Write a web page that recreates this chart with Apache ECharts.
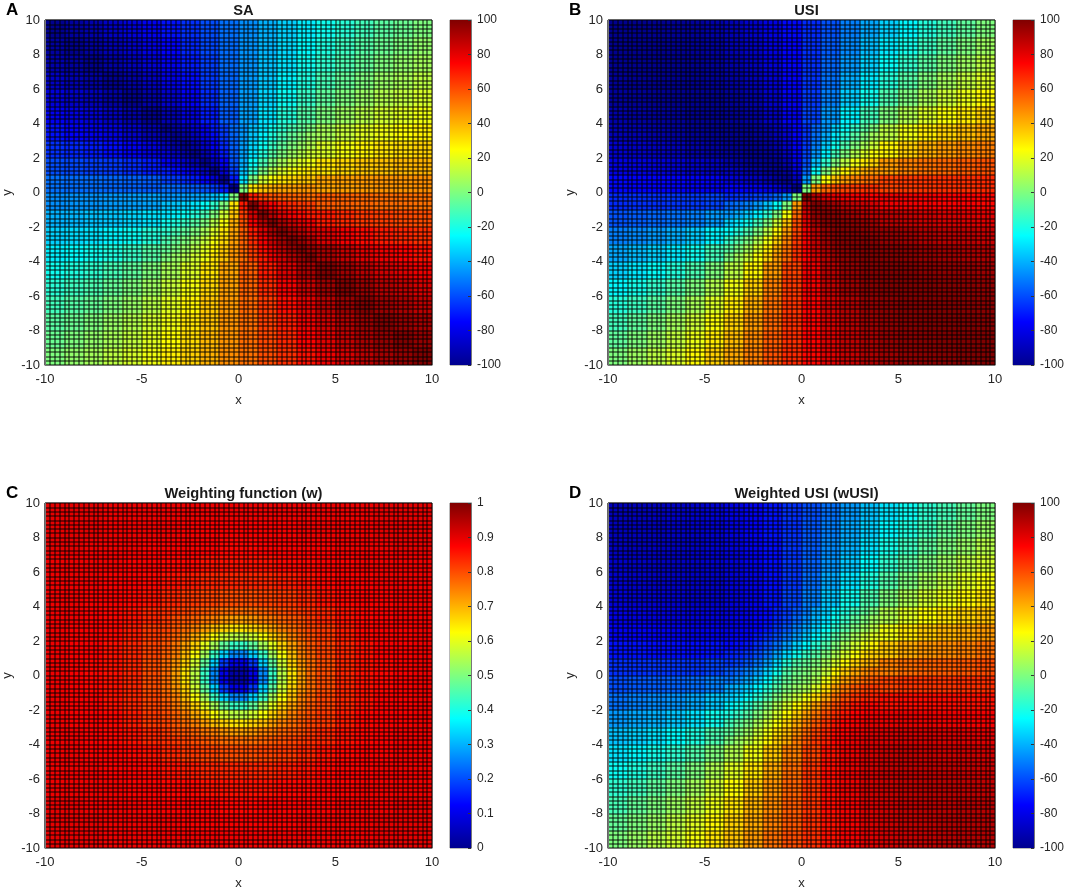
<!DOCTYPE html>
<html>
<head>
<meta charset="utf-8">
<title>SA, USI, weighting function, wUSI</title>
<script src="https://cdn.jsdelivr.net/npm/echarts@6/dist/echarts.min.js"></script>
<style>
  html, body { margin: 0; background: #fff; }
  #main { width: 1067px; height: 893px; }
</style>
</head>
<body>
<div id="main"></div>
<script>
// cell centres, values: one cell per unit over the whole plot
var xCenters = [-9.5,-8.5,-7.5,-6.5,-5.5,-4.5,-3.5,-2.5,-1.5,-0.5,0.5,1.5,2.5,3.5,4.5,5.5,6.5,7.5,8.5,9.5];
var yCenters = [9.5,8.5,7.5,6.5,5.5,4.5,3.5,2.5,1.5,0.5,-0.5,-1.5,-2.5,-3.5,-4.5,-5.5,-6.5,-7.5,-8.5,-9.5];
// and half unit cells around the centre, where the picture changes fast
var xInner = [-3.75,-3.25,-2.75,-2.25,-1.75,-1.25,-0.75,-0.25,0.25,0.75,1.25,1.75,2.25,2.75,3.25,3.75];
var yInner = [3.75,3.25,2.75,2.25,1.75,1.25,0.75,0.25,-0.25,-0.75,-1.25,-1.75,-2.25,-2.75,-3.25,-3.75];

var saValues = [
  [-100,-96,-93,-88,-83,-78,-72,-66,-60,-53,-47,-40,-34,-28,-22,-17,-12,-7,-4,0],
  [-96,-100,-96,-92,-87,-81,-75,-68,-61,-54,-46,-39,-32,-25,-19,-13,-8,-4,0,4],
  [-93,-96,-100,-95,-90,-84,-78,-70,-63,-54,-46,-37,-30,-22,-16,-10,-5,0,4,7],
  [-88,-92,-95,-100,-95,-89,-81,-73,-64,-55,-45,-36,-27,-19,-11,-5,0,5,8,12],
  [-83,-87,-90,-95,-100,-94,-86,-77,-67,-56,-44,-33,-23,-14,-6,0,5,10,13,17],
  [-78,-81,-84,-89,-94,-100,-92,-82,-70,-57,-43,-30,-18,-8,0,6,11,16,19,22],
  [-72,-75,-78,-81,-86,-92,-100,-89,-76,-59,-41,-24,-11,0,8,14,19,22,25,28],
  [-66,-68,-70,-73,-77,-82,-89,-100,-84,-63,-37,-16,0,11,18,23,27,30,32,34],
  [-60,-61,-63,-64,-67,-70,-76,-84,-100,-70,-30,0,16,24,30,33,36,37,39,40],
  [-53,-54,-54,-55,-56,-57,-59,-63,-70,-100,0,30,37,41,43,44,45,46,46,47],
  [-47,-46,-46,-45,-44,-43,-41,-37,-30,0,100,70,63,59,57,56,55,54,54,53],
  [-40,-39,-37,-36,-33,-30,-24,-16,0,30,70,100,84,76,70,67,64,63,61,60],
  [-34,-32,-30,-27,-23,-18,-11,0,16,37,63,84,100,89,82,77,73,70,68,66],
  [-28,-25,-22,-19,-14,-8,0,11,24,41,59,76,89,100,92,86,81,78,75,72],
  [-22,-19,-16,-11,-6,0,8,18,30,43,57,70,82,92,100,94,89,84,81,78],
  [-17,-13,-10,-5,0,6,14,23,33,44,56,67,77,86,94,100,95,90,87,83],
  [-12,-8,-5,0,5,11,19,27,36,45,55,64,73,81,89,95,100,95,92,88],
  [-7,-4,0,5,10,16,22,30,37,46,54,63,70,78,84,90,95,100,96,93],
  [-4,0,4,8,13,19,25,32,39,46,54,61,68,75,81,87,92,96,100,96],
  [0,4,7,12,17,22,28,34,40,47,53,60,66,72,78,83,88,93,96,100]
];
var saInner = [
  [-100,-95,-90,-84,-78,-70,-63,-54,-46,-37,-30,-22,-16,-10,-5,0],
  [-95,-100,-95,-89,-81,-73,-64,-55,-45,-36,-27,-19,-11,-5,0,5],
  [-90,-95,-100,-94,-86,-77,-67,-56,-44,-33,-23,-14,-6,0,5,10],
  [-84,-89,-94,-100,-92,-82,-70,-57,-43,-30,-18,-8,0,6,11,16],
  [-78,-81,-86,-92,-100,-89,-76,-59,-41,-24,-11,0,8,14,19,22],
  [-70,-73,-77,-82,-89,-100,-84,-63,-37,-16,0,11,18,23,27,30],
  [-63,-64,-67,-70,-76,-84,-100,-70,-30,0,16,24,30,33,36,37],
  [-54,-55,-56,-57,-59,-63,-70,-100,0,30,37,41,43,44,45,46],
  [-46,-45,-44,-43,-41,-37,-30,0,100,70,63,59,57,56,55,54],
  [-37,-36,-33,-30,-24,-16,0,30,70,100,84,76,70,67,64,63],
  [-30,-27,-23,-18,-11,0,16,37,63,84,100,89,82,77,73,70],
  [-22,-19,-14,-8,0,11,24,41,59,76,89,100,92,86,81,78],
  [-16,-11,-6,0,8,18,30,43,57,70,82,92,100,94,89,84],
  [-10,-5,0,6,14,23,33,44,56,67,77,86,94,100,95,90],
  [-5,0,5,11,19,27,36,45,55,64,73,81,89,95,100,95],
  [0,5,10,16,22,30,37,46,54,63,70,78,84,90,95,100]
];

var usiValues = [
  [-100,-100,-99,-98,-97,-94,-91,-86,-81,-74,-67,-59,-50,-42,-34,-26,-18,-12,-6,0],
  [-100,-100,-100,-99,-98,-96,-92,-88,-82,-75,-66,-57,-48,-38,-29,-21,-13,-6,0,6],
  [-99,-100,-100,-100,-99,-97,-94,-89,-83,-75,-66,-55,-45,-34,-24,-15,-7,0,6,12],
  [-98,-99,-100,-100,-100,-98,-96,-91,-85,-76,-65,-53,-41,-29,-18,-8,0,7,13,18],
  [-97,-98,-99,-100,-100,-100,-98,-94,-87,-77,-64,-50,-35,-22,-10,0,8,15,21,26],
  [-94,-96,-97,-98,-100,-100,-99,-96,-89,-78,-62,-45,-27,-12,0,10,18,24,29,34],
  [-91,-92,-94,-96,-98,-99,-100,-99,-93,-80,-60,-37,-16,0,12,22,29,34,38,42],
  [-86,-88,-89,-91,-94,-96,-99,-100,-97,-83,-55,-24,0,16,27,35,41,45,48,50],
  [-81,-82,-83,-85,-87,-89,-93,-97,-100,-89,-45,0,24,37,45,50,53,55,57,59],
  [-74,-75,-75,-76,-77,-78,-80,-83,-89,-100,0,45,55,60,62,64,65,66,66,67],
  [-67,-66,-66,-65,-64,-62,-60,-55,-45,0,100,89,83,80,78,77,76,75,75,74],
  [-59,-57,-55,-53,-50,-45,-37,-24,0,45,89,100,97,93,89,87,85,83,82,81],
  [-50,-48,-45,-41,-35,-27,-16,0,24,55,83,97,100,99,96,94,91,89,88,86],
  [-42,-38,-34,-29,-22,-12,0,16,37,60,80,93,99,100,99,98,96,94,92,91],
  [-34,-29,-24,-18,-10,0,12,27,45,62,78,89,96,99,100,100,98,97,96,94],
  [-26,-21,-15,-8,0,10,22,35,50,64,77,87,94,98,100,100,100,99,98,97],
  [-18,-13,-7,0,8,18,29,41,53,65,76,85,91,96,98,100,100,100,99,98],
  [-12,-6,0,7,15,24,34,45,55,66,75,83,89,94,97,99,100,100,100,99],
  [-6,0,6,13,21,29,38,48,57,66,75,82,88,92,96,98,99,100,100,100],
  [0,6,12,18,26,34,42,50,59,67,74,81,86,91,94,97,98,99,100,100]
];
var usiInner = [
  [-100,-100,-99,-97,-94,-89,-83,-75,-66,-55,-45,-34,-24,-15,-7,0],
  [-100,-100,-100,-98,-96,-91,-85,-76,-65,-53,-41,-29,-18,-8,0,7],
  [-99,-100,-100,-100,-98,-94,-87,-77,-64,-50,-35,-22,-10,0,8,15],
  [-97,-98,-100,-100,-99,-96,-89,-78,-62,-45,-27,-12,0,10,18,24],
  [-94,-96,-98,-99,-100,-99,-93,-80,-60,-37,-16,0,12,22,29,34],
  [-89,-91,-94,-96,-99,-100,-97,-83,-55,-24,0,16,27,35,41,45],
  [-83,-85,-87,-89,-93,-97,-100,-89,-45,0,24,37,45,50,53,55],
  [-75,-76,-77,-78,-80,-83,-89,-100,0,45,55,60,62,64,65,66],
  [-66,-65,-64,-62,-60,-55,-45,0,100,89,83,80,78,77,76,75],
  [-55,-53,-50,-45,-37,-24,0,45,89,100,97,93,89,87,85,83],
  [-45,-41,-35,-27,-16,0,24,55,83,97,100,99,96,94,91,89],
  [-34,-29,-22,-12,0,16,37,60,80,93,99,100,99,98,96,94],
  [-24,-18,-10,0,12,27,45,62,78,89,96,99,100,100,98,97],
  [-15,-8,0,10,22,35,50,64,77,87,94,98,100,100,100,99],
  [-7,0,8,18,29,41,53,65,76,85,91,96,98,100,100,100],
  [0,7,15,24,34,45,55,66,75,83,89,94,97,99,100,100]
];

var weightValues = [
  [.90,.90,.90,.89,.89,.89,.89,.89,.89,.89,.89,.89,.89,.89,.89,.89,.89,.90,.90,.90],
  [.90,.90,.90,.89,.89,.89,.89,.88,.88,.88,.88,.88,.88,.89,.89,.89,.89,.90,.90,.90],
  [.90,.90,.89,.89,.89,.88,.88,.88,.88,.87,.87,.88,.88,.88,.88,.89,.89,.89,.90,.90],
  [.89,.89,.89,.89,.88,.88,.87,.87,.86,.86,.86,.86,.87,.87,.88,.88,.89,.89,.89,.89],
  [.89,.89,.89,.88,.88,.87,.86,.85,.84,.84,.84,.84,.85,.86,.87,.88,.88,.89,.89,.89],
  [.89,.89,.88,.88,.87,.86,.84,.82,.81,.80,.80,.81,.82,.84,.86,.87,.88,.88,.89,.89],
  [.89,.89,.88,.87,.86,.84,.82,.79,.77,.75,.75,.77,.79,.82,.84,.86,.87,.88,.89,.89],
  [.89,.88,.88,.87,.85,.82,.79,.75,.68,.62,.62,.68,.75,.79,.82,.85,.87,.88,.88,.89],
  [.89,.88,.88,.86,.84,.81,.77,.68,.53,.37,.37,.53,.68,.77,.81,.84,.86,.88,.88,.89],
  [.89,.88,.87,.86,.84,.80,.75,.62,.37,.08,.08,.37,.62,.75,.80,.84,.86,.87,.88,.89],
  [.89,.88,.87,.86,.84,.80,.75,.62,.37,.08,.08,.37,.62,.75,.80,.84,.86,.87,.88,.89],
  [.89,.88,.88,.86,.84,.81,.77,.68,.53,.37,.37,.53,.68,.77,.81,.84,.86,.88,.88,.89],
  [.89,.88,.88,.87,.85,.82,.79,.75,.68,.62,.62,.68,.75,.79,.82,.85,.87,.88,.88,.89],
  [.89,.89,.88,.87,.86,.84,.82,.79,.77,.75,.75,.77,.79,.82,.84,.86,.87,.88,.89,.89],
  [.89,.89,.88,.88,.87,.86,.84,.82,.81,.80,.80,.81,.82,.84,.86,.87,.88,.88,.89,.89],
  [.89,.89,.89,.88,.88,.87,.86,.85,.84,.84,.84,.84,.85,.86,.87,.88,.88,.89,.89,.89],
  [.89,.89,.89,.89,.88,.88,.87,.87,.86,.86,.86,.86,.87,.87,.88,.88,.89,.89,.89,.89],
  [.90,.90,.89,.89,.89,.88,.88,.88,.88,.87,.87,.88,.88,.88,.88,.89,.89,.89,.90,.90],
  [.90,.90,.90,.89,.89,.89,.89,.88,.88,.88,.88,.88,.88,.89,.89,.89,.89,.90,.90,.90],
  [.90,.90,.90,.89,.89,.89,.89,.89,.89,.89,.89,.89,.89,.89,.89,.89,.89,.90,.90,.90]
];
var weightInner = [
  [.83,.82,.81,.80,.79,.78,.77,.77,.77,.77,.78,.79,.80,.81,.82,.83],
  [.82,.80,.79,.78,.76,.75,.73,.72,.72,.73,.75,.76,.78,.79,.80,.82],
  [.81,.79,.77,.75,.72,.69,.67,.65,.65,.67,.69,.72,.75,.77,.79,.81],
  [.80,.78,.75,.71,.67,.62,.58,.56,.56,.58,.62,.67,.71,.75,.78,.80],
  [.79,.76,.72,.67,.60,.54,.47,.43,.43,.47,.54,.60,.67,.72,.76,.79],
  [.78,.75,.69,.62,.54,.43,.33,.26,.26,.33,.43,.54,.62,.69,.75,.78],
  [.77,.73,.67,.58,.47,.33,.18,.10,.10,.18,.33,.47,.58,.67,.73,.77],
  [.77,.72,.65,.56,.43,.26,.10,.03,.03,.10,.26,.43,.56,.65,.72,.77],
  [.77,.72,.65,.56,.43,.26,.10,.03,.03,.10,.26,.43,.56,.65,.72,.77],
  [.77,.73,.67,.58,.47,.33,.18,.10,.10,.18,.33,.47,.58,.67,.73,.77],
  [.78,.75,.69,.62,.54,.43,.33,.26,.26,.33,.43,.54,.62,.69,.75,.78],
  [.79,.76,.72,.67,.60,.54,.47,.43,.43,.47,.54,.60,.67,.72,.76,.79],
  [.80,.78,.75,.71,.67,.62,.58,.56,.56,.58,.62,.67,.71,.75,.78,.80],
  [.81,.79,.77,.75,.72,.69,.67,.65,.65,.67,.69,.72,.75,.77,.79,.81],
  [.82,.80,.79,.78,.76,.75,.73,.72,.72,.73,.75,.76,.78,.79,.80,.82],
  [.83,.82,.81,.80,.79,.78,.77,.77,.77,.77,.78,.79,.80,.81,.82,.83]
];

var wusiValues = [
  [-90,-90,-89,-87,-86,-84,-81,-77,-72,-66,-60,-53,-45,-37,-30,-23,-16,-11,-5,0],
  [-90,-90,-90,-88,-87,-85,-82,-77,-72,-66,-58,-50,-42,-34,-26,-19,-12,-5,0,5],
  [-89,-90,-89,-89,-88,-85,-83,-78,-73,-65,-57,-48,-40,-30,-21,-13,-6,0,5,11],
  [-87,-88,-89,-89,-88,-86,-84,-79,-73,-65,-56,-46,-36,-25,-16,-7,0,6,12,16],
  [-86,-87,-88,-88,-88,-87,-84,-80,-73,-65,-54,-42,-30,-19,-9,0,7,13,19,23],
  [-84,-85,-85,-86,-87,-86,-83,-79,-72,-62,-50,-36,-22,-10,0,9,16,21,26,30],
  [-81,-82,-83,-84,-84,-83,-82,-78,-72,-60,-45,-28,-13,0,10,19,25,30,34,37],
  [-77,-77,-78,-79,-80,-79,-78,-75,-66,-51,-34,-16,0,13,22,30,36,40,42,45],
  [-72,-72,-73,-73,-73,-72,-72,-66,-53,-33,-17,0,16,28,36,42,46,48,50,53],
  [-66,-66,-65,-65,-65,-62,-60,-51,-33,-8,0,17,34,45,50,54,56,57,58,60],
  [-60,-58,-57,-56,-54,-50,-45,-34,-17,0,8,33,51,60,62,65,65,65,66,66],
  [-53,-50,-48,-46,-42,-36,-28,-16,0,17,33,53,66,72,72,73,73,73,72,72],
  [-45,-42,-40,-36,-30,-22,-13,0,16,34,51,66,75,78,79,80,79,78,77,77],
  [-37,-34,-30,-25,-19,-10,0,13,28,45,60,72,78,82,83,84,84,83,82,81],
  [-30,-26,-21,-16,-9,0,10,22,36,50,62,72,79,83,86,87,86,85,85,84],
  [-23,-19,-13,-7,0,9,19,30,42,54,65,73,80,84,87,88,88,88,87,86],
  [-16,-12,-6,0,7,16,25,36,46,56,65,73,79,84,86,88,89,89,88,87],
  [-11,-5,0,6,13,21,30,40,48,57,65,73,78,83,85,88,89,89,90,89],
  [-5,0,5,12,19,26,34,42,50,58,66,72,77,82,85,87,88,90,90,90],
  [0,5,11,16,23,30,37,45,53,60,66,72,77,81,84,86,87,89,90,90]
];
var wusiInner = [
  [-83,-82,-80,-78,-74,-69,-64,-58,-51,-42,-35,-27,-19,-12,-6,0],
  [-82,-80,-79,-76,-73,-68,-62,-55,-47,-39,-31,-22,-14,-6,0,6],
  [-80,-79,-77,-75,-71,-65,-58,-50,-42,-34,-24,-16,-8,0,6,12],
  [-78,-76,-75,-71,-66,-60,-52,-44,-35,-26,-17,-8,0,8,14,19],
  [-74,-73,-71,-66,-60,-53,-44,-34,-26,-17,-9,0,8,16,22,27],
  [-69,-68,-65,-60,-53,-43,-32,-22,-14,-8,0,9,17,24,31,35],
  [-64,-62,-58,-52,-44,-32,-18,-9,-5,0,8,17,26,34,39,42],
  [-58,-55,-50,-44,-34,-22,-9,-3,0,5,14,26,35,42,47,51],
  [-51,-47,-42,-35,-26,-14,-5,0,3,9,22,34,44,50,55,58],
  [-42,-39,-34,-26,-17,-8,0,5,9,18,32,44,52,58,62,64],
  [-35,-31,-24,-17,-9,0,8,14,22,32,43,53,60,65,68,69],
  [-27,-22,-16,-8,0,9,17,26,34,44,53,60,66,71,73,74],
  [-19,-14,-8,0,8,17,26,35,44,52,60,66,71,75,76,78],
  [-12,-6,0,8,16,24,34,42,50,58,65,71,75,77,79,80],
  [-6,0,6,14,22,31,39,47,55,62,68,73,76,79,80,82],
  [0,6,12,19,27,35,42,51,58,64,69,74,78,80,82,83]
];

var panelTitles = ['SA', 'USI', 'Weighting function (w)', 'Weighted USI (wUSI)'];
var panelLetters = ['A', 'B', 'C', 'D'];
var panelValues = [saValues, usiValues, weightValues, wusiValues];
var panelInner = [saInner, usiInner, weightInner, wusiInner];
var panelRanges = [[-100, 100], [-100, 100], [0, 1], [-100, 100]];
var barIntervals = [20, 20, 0.1, 20];

// matlab jet
var jet = ['#00008f','#0000ff','#007fff','#00ffff','#7fff7f','#ffff00','#ff7f00','#ff0000','#800000'];

var plotW = 387, plotH = 345, barW = 21;
var plotLeft = [45, 608, 45, 608];
var plotTop = [20, 20, 503, 503];
var textColor = '#262626';
var meshLine = { color: 'rgba(0,0,0,0.62)', width: 1.5 };

function cellData(xs, ys, rows, size) {
  var out = [];
  for (var j = 0; j < ys.length; j++) {
    for (var i = 0; i < xs.length; i++) {
      out.push([xs[i], ys[j], rows[j][i], size]);
    }
  }
  return out;
}

function renderCell(params, api) {
  var half = api.value(3) / 2;
  var a = api.coord([api.value(0) - half, api.value(1) + half]);
  var b = api.coord([api.value(0) + half, api.value(1) - half]);
  var x0 = Math.round(a[0]), y0 = Math.round(a[1]);
  return {
    type: 'rect',
    shape: { x: x0, y: y0, width: Math.round(b[0]) - x0, height: Math.round(b[1]) - y0 },
    style: { fill: api.visual('color') }
  };
}

function renderBar(params, api) {
  var a = api.coord([0, api.value(1)]);
  var b = api.coord([1, api.value(0)]);
  return {
    type: 'rect',
    shape: { x: a[0], y: a[1], width: b[0] - a[0], height: b[1] - a[1] },
    style: {
      fill: {
        type: 'linear', x: 0, y: 1, x2: 0, y2: 0,
        colorStops: jet.map(function (c, i) { return { offset: i / 8, color: c }; })
      }
    }
  };
}

var option = {
  animation: false,
  textStyle: { fontFamily: 'Liberation Sans, Arial, sans-serif' },
  title: [], grid: [], xAxis: [], yAxis: [], series: [], visualMap: []
};

panelTitles.forEach(function (name, k) {
  var left = plotLeft[k], top = plotTop[k];
  var g = k * 2;
  option.title.push({
    text: name, left: left + plotW / 2, top: top - 22, textAlign: 'center',
    textStyle: { fontSize: 14.7, fontWeight: 'bold', color: '#1a1a1a' }
  });
  option.title.push({
    text: panelLetters[k], left: left - 44, top: top - 23,
    textStyle: { fontSize: 17, fontWeight: 'bold', color: '#000' }
  });
  option.grid.push({ left: left, top: top, width: plotW, height: plotH, show: true, borderColor: '#777', borderWidth: 1 });
  option.grid.push({ left: left + plotW + 18, top: top, width: barW, height: plotH, show: true, borderColor: '#777', borderWidth: 1 });

  option.xAxis.push({
    type: 'value', gridIndex: g, min: -10, max: 10, interval: 5, z: 3,
    name: 'x', nameLocation: 'middle', nameGap: 29,
    nameTextStyle: { fontSize: 13, color: textColor },
    axisLine: { show: true, onZero: false, lineStyle: { color: '#777' } },
    axisTick: { show: false },
    axisLabel: { fontSize: 13, color: textColor, margin: 8 },
    splitLine: { show: true, lineStyle: meshLine },
    minorTick: { show: false, splitNumber: 20 },
    minorSplitLine: { show: true, lineStyle: meshLine }
  });
  option.yAxis.push({
    type: 'value', gridIndex: g, min: -10, max: 10, interval: 2, z: 3,
    name: 'y', nameLocation: 'middle', nameGap: 31,
    nameTextStyle: { fontSize: 13, color: textColor },
    axisLine: { show: true, onZero: false, lineStyle: { color: '#777' } },
    axisTick: { show: false },
    axisLabel: { fontSize: 13, color: textColor, margin: 5 },
    splitLine: { show: true, lineStyle: meshLine },
    minorTick: { show: false, splitNumber: 8 },
    minorSplitLine: { show: true, lineStyle: meshLine }
  });
  // colorbar
  option.xAxis.push({ type: 'value', gridIndex: g + 1, min: 0, max: 1, show: false });
  option.yAxis.push({
    type: 'value', gridIndex: g + 1, position: 'right', z: 3,
    min: panelRanges[k][0], max: panelRanges[k][1], interval: barIntervals[k],
    axisLine: { show: true, onZero: false, lineStyle: { color: '#777' } },
    axisTick: { show: true, inside: true, length: 3, lineStyle: { color: '#333' } },
    axisLabel: { fontSize: 12, color: textColor, margin: 6 },
    splitLine: { show: false }
  });

  option.series.push({
    type: 'custom', xAxisIndex: g, yAxisIndex: g, clip: true,
    renderItem: renderCell,
    dimensions: ['x', 'y', 'v', 'size'],
    encode: { x: 0, y: 1 },
    // the half unit cells come last so they lie over the coarse ones
    data: cellData(xCenters, yCenters, panelValues[k], 1).concat(cellData(xInner, yInner, panelInner[k], 0.5)),
    silent: true
  });
  option.visualMap.push({
    show: false, type: 'continuous', seriesIndex: k * 2, dimension: 2,
    min: panelRanges[k][0], max: panelRanges[k][1],
    inRange: { color: jet }
  });
  option.series.push({
    type: 'custom', xAxisIndex: g + 1, yAxisIndex: g + 1,
    renderItem: renderBar,
    encode: { y: [0, 1] },
    data: [panelRanges[k]],
    silent: true
  });
});

var chart = echarts.init(document.getElementById('main'), null, { renderer: 'canvas' });
chart.setOption(option);
</script>
</body>
</html>
